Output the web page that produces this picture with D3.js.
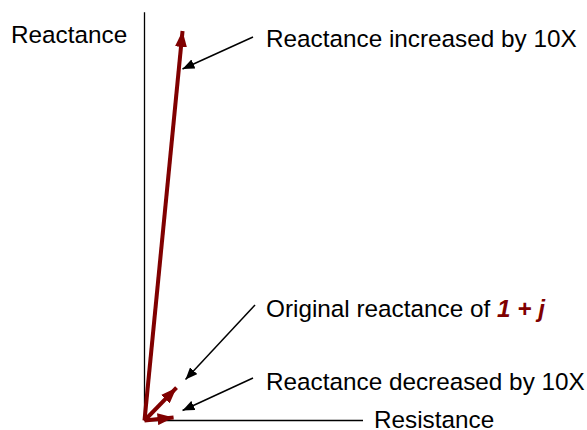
<!DOCTYPE html>
<html>
<head>
<meta charset="utf-8">
<script src="https://cdn.jsdelivr.net/npm/d3@7"></script>
<style>
  body { margin: 0; background: #fff; }
  text { font-family: "Liberation Sans", Arial, sans-serif; font-size: 24.3px; fill: #000; }
</style>
</head>
<body>
<div class="svg"></div>
<script>
// impedance vectors: resistance + j * reactance
const names = ['increased', 'original', 'decreased'];
const resistance = [1, 1, 1];
const reactance = [10, 1, 0.1];
const labels = ['Reactance increased by 10X', 'Original reactance of ', 'Reactance decreased by 10X'];
const axisLabels = ['Reactance', 'Resistance'];

const w = 587;
const h = 430;
const red = '#800000';

const svg = d3.select('.svg').append('svg').attr('width', w).attr('height', h);

const xScale = d3.scaleLinear().domain([0, 5.6]).range([144.5, 363]);
const yScale = d3.scaleLinear().domain([0, 10]).range([420.5, 21]);

const defs = svg.append('defs');
defs.append('marker').attr('id', 'vec').attr('markerUnits', 'userSpaceOnUse')
  .attr('viewBox', '0 0 16 12').attr('refX', 16).attr('refY', 6)
  .attr('markerWidth', 16).attr('markerHeight', 12).attr('orient', 'auto')
  .append('path').attr('d', 'M0,0 L16,6 L0,12 Z').attr('fill', red);
defs.append('marker').attr('id', 'call').attr('markerUnits', 'userSpaceOnUse')
  .attr('viewBox', '0 0 12 10').attr('refX', 12).attr('refY', 5)
  .attr('markerWidth', 12).attr('markerHeight', 10).attr('orient', 'auto')
  .append('path').attr('d', 'M0,0 L12,5 L0,10 Z').attr('fill', '#000');

// axes
svg.append('line').attr('x1', xScale(0)).attr('y1', yScale(0))
  .attr('x2', xScale(0)).attr('y2', yScale(10.22)).attr('stroke', '#000').attr('stroke-width', 1.3);
svg.append('line').attr('x1', xScale(0)).attr('y1', yScale(0))
  .attr('x2', xScale(5.6)).attr('y2', yScale(0)).attr('stroke', '#000').attr('stroke-width', 1.3);

svg.append('text').attr('x', 11).attr('y', 43).text(axisLabels[0]);
svg.append('text').attr('x', 374).attr('y', 428).text(axisLabels[1]);

const vecs = names.map((n, i) => ({ name: n, r: resistance[i], x: reactance[i], label: labels[i] }));

// shorten line so the marker tip lands on the point
const trim = (d, len) => {
  const x1 = xScale(0), y1 = yScale(0), x2 = xScale(d.r), y2 = yScale(d.x);
  const L = Math.hypot(x2 - x1, y2 - y1);
  return [x2 - (x2 - x1) / L * len, y2 - (y2 - y1) / L * len];
};

svg.selectAll('.vec').data(vecs).enter().append('line').attr('class', 'vec')
  .attr('x1', xScale(0)).attr('y1', yScale(0))
  .attr('x2', d => trim(d, 10)[0]).attr('y2', d => trim(d, 10)[1])
  .attr('stroke', red).attr('stroke-width', 4).attr('marker-end', 'url(#vec)');

// callouts
const labelY = [47, 317, 390];
const callStart = [[253, 37], [255, 305], [253, 378]];
const callOff = [[-1, 48], [2, -1], [-1, -6]];
svg.selectAll('.call').data(vecs).enter().append('line').attr('class', 'call')
  .attr('x1', (d, i) => callStart[i][0]).attr('y1', (d, i) => callStart[i][1])
  .attr('x2', (d, i) => xScale(d.r) + callOff[i][0]).attr('y2', (d, i) => yScale(d.x) + callOff[i][1])
  .attr('stroke', '#000').attr('stroke-width', 1.5).attr('marker-end', 'url(#call)');

const t = svg.selectAll('.lab').data(vecs).enter().append('text').attr('class', 'lab')
  .attr('x', 266).attr('y', (d, i) => labelY[i]).text(d => d.label);
t.filter(d => d.name === 'original').append('tspan')
  .attr('fill', red).attr('font-weight', 'bold').attr('font-style', 'italic').text('1 + j');
</script>
</body>
</html>
